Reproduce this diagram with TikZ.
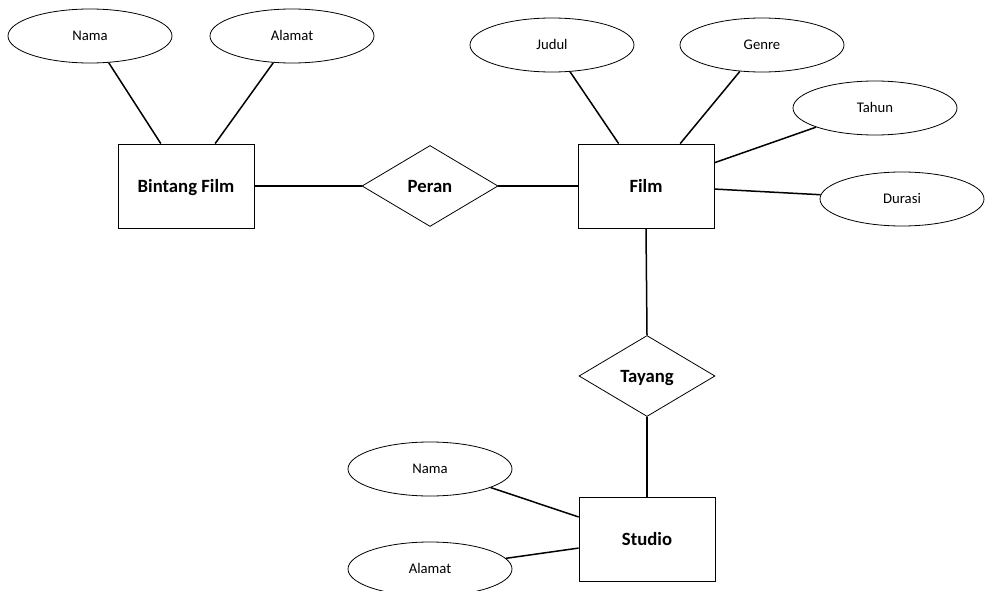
\documentclass[tikz,border=0pt]{standalone}
\usepackage{fontspec}
\setmainfont{Carlito}
\usetikzlibrary{shapes.geometric,calc}
\begin{document}
\begin{tikzpicture}[x=1pt,y=-1pt,
  attr/.style={draw,ellipse,line width=0.8pt,inner sep=0pt,minimum width=164pt,minimum height=54pt,text height=9.5pt,text depth=0pt,font=\fontsize{14.7}{16}\selectfont},
  entity/.style={draw,rectangle,line width=0.8pt,inner sep=0pt,minimum width=136pt,minimum height=84pt,text height=12pt,text depth=0pt,font=\fontsize{18.7}{20}\selectfont\bfseries},
  relation/.style={draw,diamond,line width=0.8pt,inner sep=0pt,minimum width=136pt,minimum height=81pt,text height=12pt,text depth=0pt,font=\fontsize{18.7}{20}\selectfont\bfseries},
  link/.style={line width=1.5pt}]
\useasboundingbox (0,0) rectangle (987,591);
\clip (0,0) rectangle (987,591);

% entities
\node[entity] (bf) at (186,186) {Bintang Film};
\node[entity] (film) at (646,186) {Film};
\node[entity] (studio) at (647,539) {Studio};

% relationships
\node[relation] (peran) at (430,186) {Peran};
\node[relation] (tayang) at (647,376) {Tayang};

% attributes
\node[attr] (bfnama) at (90,36) {Nama};
\node[attr] (bfalamat) at (292,36) {Alamat};
\node[attr] (judul) at (552,45) {Judul};
\node[attr] (genre) at (762,45) {Genre};
\node[attr] (tahun) at (875,108) {Tahun};
\node[attr] (durasi) at (902,199) {Durasi};
\node[attr] (stnama) at (430,469) {Nama};
\node[attr] (stalamat) at (430,569) {Alamat};

% connectors
\draw[link] (bfnama.-55) -- ($(bf.north west)!0.316!(bf.north east)$);
\draw[link] (bfalamat.-125) -- ($(bf.north west)!0.713!(bf.north east)$);
\draw[link] (bf.east) -- (peran.west);
\draw[link] (peran.east) -- (film.west);
\draw[link] (judul.-56) -- ($(film.north west)!0.30!(film.north east)$);
\draw[link] (genre.-130) -- ($(film.north west)!0.75!(film.north east)$);
\draw[link] (tahun.-162) -- ($(film.north east)!0.226!(film.south east)$);
\draw[link] (durasi.177) -- ($(film.north east)!0.536!(film.south east)$);
\draw[link] (film.south) -- (tayang.north);
\draw[link] (tayang.south) -- (studio.north);
\draw[link] (stnama.-17.5) -- ($(studio.north west)!0.24!(studio.south west)$);
\draw[link] (stalamat.8) -- ($(studio.north west)!0.607!(studio.south west)$);
\end{tikzpicture}
\end{document}
